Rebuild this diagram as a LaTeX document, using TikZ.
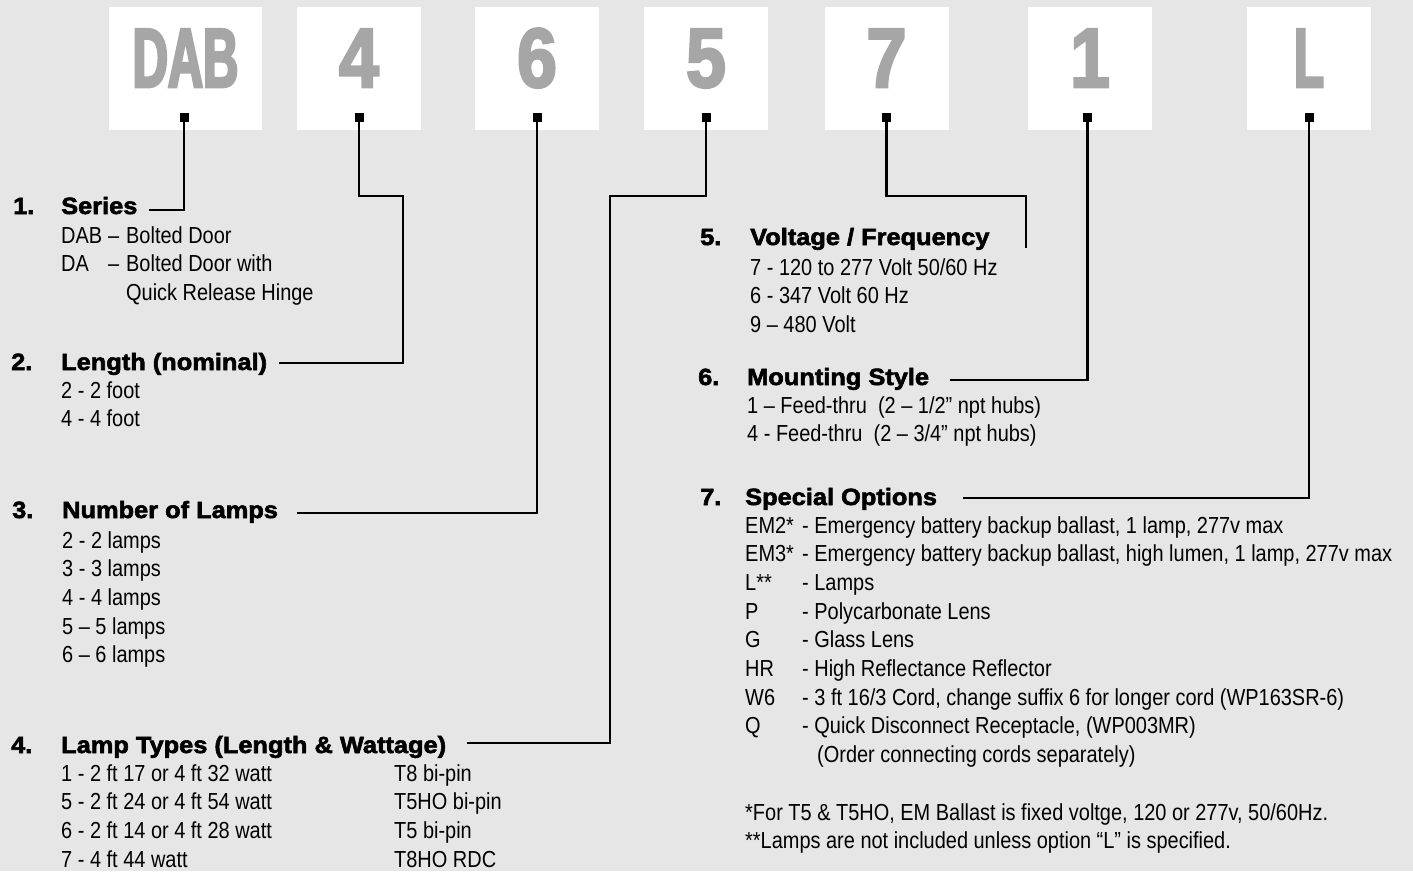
\documentclass[tikz,border=0pt]{standalone}
\usepackage{fontspec}
\setmainfont{Liberation Sans}[FakeStretch=0.86]
\newfontfamily\headfont{Liberation Sans}[FakeStretch=1.08,FakeBold=2.5]
\newfontfamily\tabfont{Liberation Sans}[FakeStretch=0.85,FakeBold=3]
\newfontfamily\tabfontnarrow{Liberation Sans}[FakeStretch=0.58,FakeBold=3]
\usetikzlibrary{positioning}
\definecolor{paper}{RGB}{230,230,230}
\definecolor{tabgray}{RGB}{166,166,166}

\begin{document}
\begin{tikzpicture}[x=1pt,y=-1pt,
    tab/.style={fill=white,inner xsep=0pt,inner ysep=22pt,text height=58pt,text depth=21pt,
      minimum width=124pt,text=tabgray,font=\tabfont\bfseries\fontsize{84}{84}\selectfont},
    dot/.style={fill=black,inner sep=0pt,minimum size=9pt},
    head/.style={anchor=base west,inner sep=0pt,font=\headfont\bfseries\fontsize{23.5}{28}\selectfont},
    body/.style={anchor=base west,inner sep=0pt,font=\fontsize{23.2}{28.7}\selectfont},
    wire/.style={line width=2.4pt}]
    \useasboundingbox (0,0) rectangle (1413,871);
    \fill[paper] (0,0) rectangle (1413,871);

    % code tabs
    \node[tab,minimum width=153pt] (t1) at (185.5,68.5) {\tabfontnarrow DAB};
    \node[tab] (t2) at (359,68.5) {4};
    \node[tab] (t3) at (537,68.5) {6};
    \node[tab] (t4) at (706,68.5) {5};
    \node[tab] (t5) at (886.5,68.5) {7};
    \node[tab] (t6) at (1090,68.5) {1};
    \node[tab,font=\tabfontnarrow\bfseries\fontsize{84}{84}\selectfont] (t7) at (1309,68.5) {L};
    \node[dot] (d1) at ([xshift=-1.5pt,yshift=12.5pt]t1.south) {};
    \node[dot] (d2) at ([yshift=12.5pt]t2.south) {};
    \node[dot] (d3) at ([yshift=12.5pt]t3.south) {};
    \node[dot] (d4) at ([yshift=12.5pt]t4.south) {};
    \node[dot] (d5) at ([yshift=12.5pt]t5.south) {};
    \node[dot] (d6) at ([xshift=-2.5pt,yshift=12.5pt]t6.south) {};
    \node[dot] (d7) at ([yshift=12.5pt]t7.south) {};

    % left column
    \node[head] (n1) at (13,214) {1.};
    \node[head] (h1) at (61,214) {Series};
    \node[body] (b1) at (61,243) {\begin{tabular}[t]{@{}p{47pt}@{}p{18pt}@{}l@{}}
      DAB & – & Bolted Door\\
      DA & – & Bolted Door with\\
      & & Quick Release Hinge
    \end{tabular}};
    \node[head] (n2) at (11,370) {2.};
    \node[head] (h2) at (61,370) {Length (nominal)};
    \node[body] (b2) at (61,398) {\begin{tabular}[t]{@{}l@{}}
      2 - 2 foot\\
      4 - 4 foot
    \end{tabular}};
    \node[head] (n3) at (12,518) {3.};
    \node[head] (h3) at (62,518) {Number of Lamps};
    \node[body] (b3) at (62,548) {\begin{tabular}[t]{@{}l@{}}
      2 - 2 lamps\\
      3 - 3 lamps\\
      4 - 4 lamps\\
      5 – 5 lamps\\
      6 – 6 lamps
    \end{tabular}};
    \node[head] (n4) at (11,753) {4.};
    \node[head] (h4) at (61,753) {Lamp Types (Length \& Wattage)};
    \node[body] (b4) at (61,781) {\begin{tabular}[t]{@{}p{333pt}@{}l@{}}
      1 - 2 ft 17 or 4 ft 32 watt & T8 bi-pin\\
      5 - 2 ft 24 or 4 ft 54 watt & T5HO bi-pin\\
      6 - 2 ft 14 or 4 ft 28 watt & T5 bi-pin\\
      7 - 4 ft 44 watt & T8HO RDC
    \end{tabular}};

    % right column
    \node[head] (n5) at (700,245) {5.};
    \node[head] (h5) at (750,245) {Voltage / Frequency};
    \node[body] (b5) at (750,275) {\begin{tabular}[t]{@{}l@{}}
      7 - 120 to 277 Volt 50/60 Hz\\
      6 - 347 Volt 60 Hz\\
      9 – 480 Volt
    \end{tabular}};
    \node[head] (n6) at (698,385) {6.};
    \node[head] (h6) at (747,385) {Mounting Style};
    \node[body] (b6) at (747,413) {\begin{tabular}[t]{@{}l@{}}
      1 – Feed-thru\ \ (2 – 1/2” npt hubs)\\
      4 - Feed-thru\ \ (2 – 3/4” npt hubs)
    \end{tabular}};
    \node[head] (n7) at (700,505) {7.};
    \node[head] (h7) at (745,505) {Special Options};
    \node[body] (b7) at (745,533) {\begin{tabular}[t]{@{}p{57pt}@{}l@{}}
      EM2* & - Emergency battery backup ballast, 1 lamp, 277v max\\
      EM3* & - Emergency battery backup ballast, high lumen, 1 lamp, 277v max\\
      L** & - Lamps\\
      P & - Polycarbonate Lens\\
      G & - Glass Lens\\
      HR & - High Reflectance Reflector\\
      W6 & - 3 ft 16/3 Cord, change suffix 6 for longer cord (WP163SR-6)\\
      Q & - Quick Disconnect Receptacle, (WP003MR)\\
      & \hspace{15pt}(Order connecting cords separately)\\
      & \\
      \multicolumn{2}{@{}l@{}}{*For T5 \& T5HO, EM Ballast is fixed voltge, 120 or 277v, 50/60Hz.}\\
      \multicolumn{2}{@{}l@{}}{**Lamps are not included unless option “L” is specified.}
    \end{tabular}};

    % connectors
    \coordinate (e1) at (149,210);
    \coordinate (c2) at (403,196);
    \coordinate (e2) at (279,363);
    \coordinate (e3) at (297,513);
    \coordinate (c4) at (610,196);
    \coordinate (e4) at (467,743);
    \coordinate (c5) at (1026,196);
    \coordinate (e5) at (1026,248);
    \coordinate (e6) at (950,380);
    \coordinate (e7) at (963,498);
    \draw[wire] (d1.center) |- (e1);
    \draw[wire] (d2.center) |- (c2) |- (e2);
    \draw[wire] (d3.center) |- (e3);
    \draw[wire] (d4.center) |- (c4) |- (e4);
    \draw[wire] (d5.center) |- (c5) -- (e5);
    \draw[wire] (d6.center) |- (e6);
    \draw[wire] (d7.center) |- (e7);
\end{tikzpicture}
\end{document}
